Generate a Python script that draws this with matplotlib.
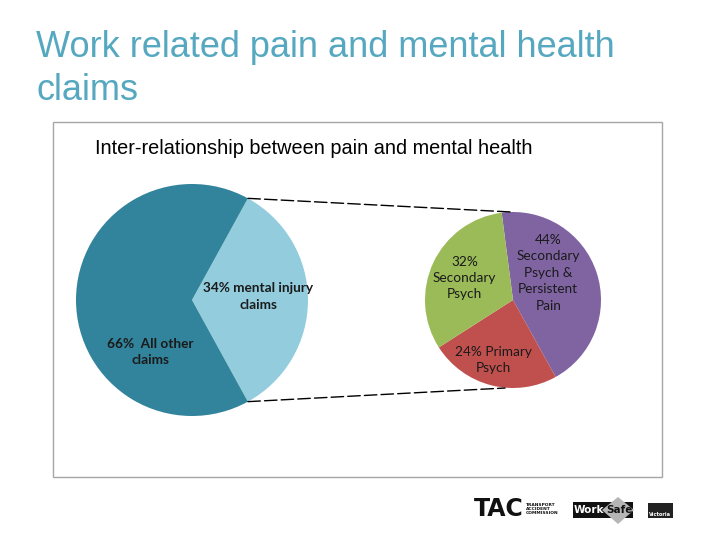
import matplotlib
matplotlib.use("Agg")
import matplotlib.pyplot as plt
from matplotlib.patches import Rectangle, ConnectionPatch, Polygon
import numpy as np

### Data
main_labels = ["34% mental injury\nclaims", "66%  All other\nclaims"]
main_values = [34, 66]
main_colors = ["#93cddd", "#31849b"]

sub_labels = ["44%\nSecondary\nPsych &\nPersistent\nPain", "24% Primary\nPsych", "32%\nSecondary\nPsych"]
sub_values = [44, 24, 32]
sub_colors = ["#8064a2", "#c0504d", "#9bbb59"]

title = "Work related pain and mental health\nclaims"
subtitle = "Inter-relationship between pain and mental health"

W, H = 720, 540

def px_box(x0, y0, w, h):
    # pixel box (top-left origin) -> figure fraction
    return [x0 / W, 1 - (y0 + h) / H, w / W, h / H]

def px(x, y):
    return x / W, 1 - y / H

fig = plt.figure(figsize=(7.2, 5.4), dpi=100)
fig.patch.set_facecolor("white")

# slide title
fig.text(*px(36, 30), title, fontsize=26, family="Liberation Sans",
         color="#55a8c0", va="top", ha="left", linespacing=1.3)

# chart frame
fig.patches.append(Rectangle(px(53, 477), 609 / W, 355 / H,
                             transform=fig.transFigure, facecolor="white",
                             edgecolor="#a6a6a6", linewidth=1, zorder=-1))
fig.text(*px(95, 148), subtitle, fontsize=14.3, family="Liberation Sans",
         color="black", va="center", ha="left")

lab = dict(fontsize=9.8, family="Lato", color="#1a1a1a", linespacing=1.45)

### main pie
ax1 = fig.add_axes(px_box(192 - 116, 300 - 116, 232, 232))
w1, _ = ax1.pie(main_values, colors=main_colors,
                startangle=-main_values[0] / 100 * 180, counterclock=True,
                radius=1.0, wedgeprops=dict(linewidth=0))
ax1.set_xlim(-1, 1)
ax1.set_ylim(-1, 1)
ax1.text(0.57, 0.03, main_labels[0], ha="center", va="center",
         fontweight="bold", **lab)
ax1.text(-0.73, -0.45, main_labels[1], ha="left", va="center",
         fontweight="bold", multialignment="center", **lab)

### secondary pie
ax2 = fig.add_axes(px_box(513 - 88, 300 - 88, 176, 176))
w2, _ = ax2.pie(sub_values, colors=sub_colors, startangle=97.4,
                counterclock=False, radius=1.0,
                wedgeprops=dict(linewidth=0))
ax2.set_xlim(-1, 1)
ax2.set_ylim(-1, 1)
ax2.text(0.40, 0.31, sub_labels[0], ha="center", va="center", **lab)
ax2.text(-0.22, -0.68, sub_labels[1], ha="center", va="center", **lab)
ax2.text(-0.55, 0.25, sub_labels[2], ha="center", va="center", **lab)

# dashed connector lines from the 34% wedge to the secondary pie
for ang, target in [(w1[0].theta2, (-0.02, 1.0)), (w1[0].theta1, (-0.09, -1.0))]:
    a = np.deg2rad(ang)
    con = ConnectionPatch(xyA=(np.cos(a), np.sin(a)), coordsA=ax1.transData,
                          xyB=target, coordsB=ax2.transData,
                          color="black", linewidth=1, linestyle=(0, (9, 3)))
    fig.add_artist(con)

### footer logos (approximate)
fig.text(*px(499, 509), "TAC", fontsize=17, fontweight="heavy",
         family="DejaVu Sans", ha="center", va="center", color="#111111")
fig.text(*px(526, 509), "TRANSPORT\nACCIDENT\nCOMMISSION", fontsize=3.2,
         fontweight="bold", family="DejaVu Sans", ha="left", va="center",
         color="#111111", linespacing=1.1)
fig.patches.append(Rectangle(px(573, 518), 60 / W, 16 / H,
                             transform=fig.transFigure, facecolor="#111111",
                             edgecolor="none"))
diamond = [px(618, 497), px(634, 510), px(618, 524), px(602, 510)]
fig.patches.append(Polygon(diamond, closed=True, transform=fig.transFigure,
                           facecolor="#b5b5b5", edgecolor="none"))
fig.text(*px(589, 510), "Work", fontsize=7.5, fontweight="bold",
         family="DejaVu Sans", ha="center", va="center", color="white")
fig.text(*px(619, 510), "Safe", fontsize=7.5, fontweight="bold",
         family="DejaVu Sans", ha="center", va="center", color="#111111")
fig.patches.append(Rectangle(px(648, 518), 25 / W, 15 / H,
                             transform=fig.transFigure, facecolor="#222222",
                             edgecolor="none"))
fig.text(*px(660, 514), "Victoria", fontsize=3.6, family="DejaVu Sans",
         ha="center", va="center", color="white", fontweight="bold")

fig.savefig("out.png", dpi=100, facecolor="white")
